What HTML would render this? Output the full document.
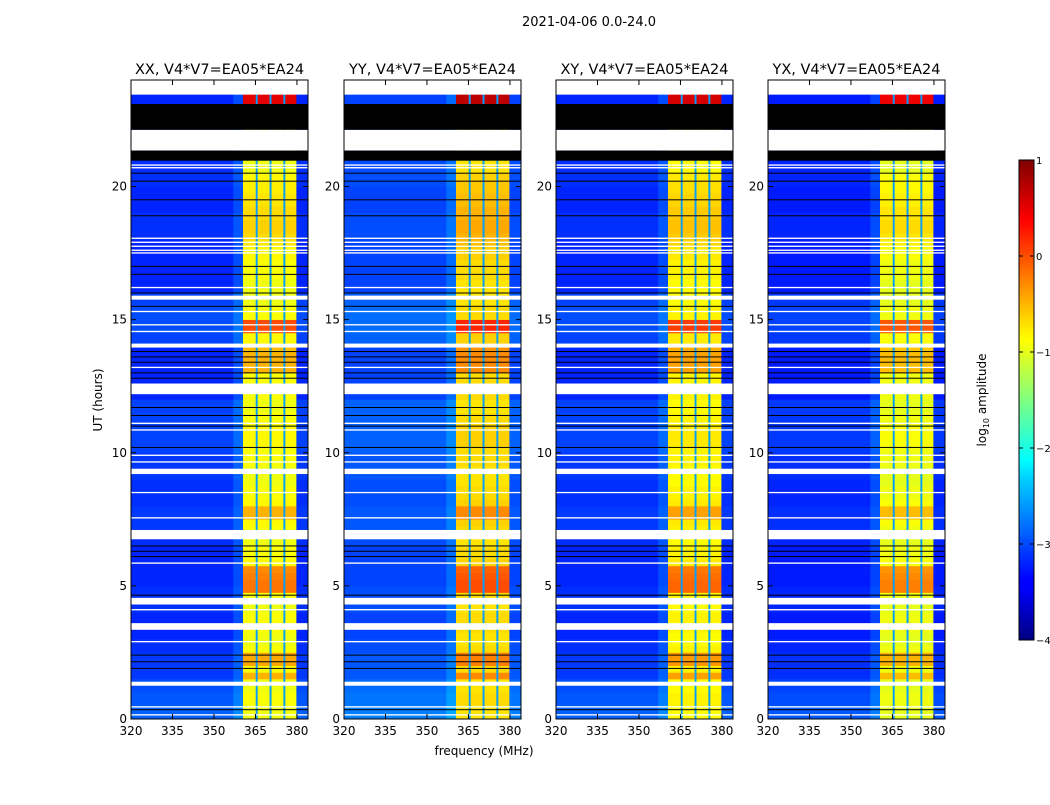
<!DOCTYPE html>
<html><head><meta charset="utf-8">
<style>
body{margin:0;background:#fff;}
svg text{font-family:"DejaVu Sans","Liberation Sans",sans-serif;}
</style></head>
<body>
<svg id="fig" width="1050" height="800" xmlns="http://www.w3.org/2000/svg">
<rect width="1050" height="800" fill="#fff"/>
<text x="589" y="26" font-size="13" text-anchor="middle">2021-04-06 0.0-24.0</text>
<text x="484" y="755" font-size="12" text-anchor="middle">frequency (MHz)</text>
<text x="0" y="0" font-size="12" text-anchor="middle" transform="translate(102,400) rotate(-90)">UT (hours)</text>
<g id="panels"></g>
<defs>
<linearGradient id="jet" x1="0" y1="1" x2="0" y2="0">
<stop offset="0" stop-color="#000080"/><stop offset="0.11" stop-color="#0000ff"/>
<stop offset="0.125" stop-color="#0000ff"/><stop offset="0.34" stop-color="#00d4ff"/>
<stop offset="0.375" stop-color="#00ffff"/><stop offset="0.5" stop-color="#80ff80"/>
<stop offset="0.625" stop-color="#ffff00"/><stop offset="0.66" stop-color="#ffe000"/>
<stop offset="0.875" stop-color="#ff0000"/><stop offset="1" stop-color="#800000"/>
</linearGradient>
</defs>
<g>
<rect x="1019" y="160" width="15" height="480" fill="url(#jet)" stroke="#000" stroke-width="1"/>
<g id="cbticks"></g>
<text font-size="12" text-anchor="middle" transform="translate(986,400) rotate(-90)">log<tspan font-size="8" dy="3">10</tspan><tspan dy="-3"> amplitude</tspan></text>
</g>
</svg>
<script>
const titles = ["XX, V4*V7=EA05*EA24","YY, V4*V7=EA05*EA24","XY, V4*V7=EA05*EA24","YX, V4*V7=EA05*EA24"];
const xTicks = [320,335,350,365,380];
const yTicks = [0,5,10,15,20];
const cbTicks = [1,0,-1,-2,-3,-4];
const bgOffset = [0,0.15,0,-0.05];
const rfiOffset = [0,0.2,0.08,-0.05];
// background log amplitude per 0.5 h
const bgLevel = [-2.9,-2.95,-3.0,-3.1,-3.1,-3.15,-3.2,-3.2,-3.15,-3.15,-3.2,-3.2,-3.2,-3.15,-3.1,-3.1,-3.15,-3.15,-3.1,-3.1,-3.05,-3.05,-3.05,-3.05,-3.2,-3.2,-3.2,-3.2,-3.05,-3.0,-3.0,-3.05,-3.2,-3.2,-3.2,-3.2,-3.15,-3.15,-3.2,-3.2,-3.15,-3.15,-3.25,-3.25,-3.2,-3.2,-3.2,-3.2];
// in-band RFI log amplitude per 0.25 h
const rfiLevel = [-0.95,-0.95,-0.9,-0.9,-0.95,-0.95,-0.5,-0.9,-0.45,-0.45,-0.9,-0.95,-0.95,-0.9,-0.9,-0.9,-0.95,-0.95,-0.9,-0.2,-0.2,-0.25,-0.3,-0.85,-0.9,-0.9,-0.95,-0.95,-0.9,-0.85,-0.5,-0.5,-0.85,-0.9,-0.9,-0.95,-0.95,-0.95,-0.9,-0.9,-0.9,-0.85,-0.85,-0.85,-0.9,-0.9,-0.95,-0.95,-0.9,-0.9,-0.9,-0.9,-0.5,-0.5,-0.5,-0.55,-0.85,-0.85,0.0,0.0,-0.9,-0.9,-0.95,-0.95,-0.95,-0.95,-0.9,-0.9,-0.9,-0.85,-0.85,-0.75,-0.7,-0.65,-0.65,-0.7,-0.7,-0.75,-0.75,-0.8,-0.8,-0.85,-0.95,-0.95,-0.95,-0.95,-0.95,-0.95,-0.95,-0.95,-0.95,-0.95,0.5,0.5,-0.95,-0.95];
const bandEdges = [[320,357,"bg"],[357,360.5,"edge"],[360.5,365.1,"rfi"],[365.1,365.8,"sep"],[365.8,370.1,"rfi"],[370.1,370.8,"sep"],[370.8,375.1,"rfi"],[375.1,375.8,"sep"],[375.8,379.8,"rfi"],[379.8,384,"bg2"]];
const whiteGaps = [[23.45,24],[21.35,22.13],[20.78,20.83],[20.68,20.73],[18.03,18.08],[17.88,17.93],[17.73,17.78],[17.58,17.63],[17.48,17.53],[16.18,16.23],[15.75,15.9],[15.28,15.33],[14.78,14.83],[14.53,14.58],[13.95,14.1],[13.18,13.23],[12.2,12.6],[11.08,11.13],[10.83,10.88],[9.88,9.93],[9.63,9.68],[9.2,9.4],[8.48,8.53],[7.53,7.58],[6.75,7.1],[5.83,5.88],[4.3,4.55],[4.08,4.13],[3.35,3.6],[2.88,2.93],[1.25,1.4],[0.43,0.48],[0.13,0.18]];
const blackGaps = [[22.13,23.1],[20.97,21.35]];
const blackLines = [20.5,20.2,19.5,18.9,17.0,16.7,16.0,15.5,13.8,13.6,13.4,13.0,12.8,11.7,11.4,11.0,10.2,6.5,6.3,6.1,4.65,2.4,2.15,1.9,0.35];

const NS="http://www.w3.org/2000/svg";
const panelX=[131,344,556,768], PW=177, PT=80, PB=719;
function yS(h){return PB-h*(PB-PT)/24;}
function xS(f,p){return panelX[p]+(f-320)*PW/64;}
function jet(v){let t=(v+4)/5;t=Math.max(0,Math.min(1,t));
 const c=x=>Math.round(255*Math.max(0,Math.min(1,1.5-Math.abs(x))));
 return `rgb(${c(4*t-3)},${c(4*t-2)},${c(4*t-1)})`;}
function mk(tag,attrs,parent){const e=document.createElementNS(NS,tag);for(const k in attrs)e.setAttribute(k,attrs[k]);parent.appendChild(e);return e;}
const root=document.getElementById("panels");
for(let p=0;p<4;p++){
 const g=mk("g",{},root);
 
 
 for(let i=0;i<rfiLevel.length;i++){
  const h0=i*0.25,h1=h0+0.25;
  const bg=bgLevel[Math.floor(i/2)]+bgOffset[p];
  const rf=rfiLevel[i]+rfiOffset[p];
  for(const [f0,f1,kind] of bandEdges){
   let v=bg;
   if(kind==="edge")v=bg+0.2;else if(kind==="rfi")v=rf;else if(kind==="sep")v=-2.6;else if(kind==="bg2")v=bg;
   const r=mk("rect",{x:xS(f0,p),y:yS(h1),width:xS(f1,p)-xS(f0,p)+0.3,height:yS(h0)-yS(h1)+0.3,fill:jet(v)},g);
   
   
  }
 }
 for(const [a,b] of whiteGaps){const r=mk("rect",{x:panelX[p],y:yS(b),width:PW,height:Math.max(1.2,yS(a)-yS(b)),fill:"#fff"},g);
  }
 for(const [a,b] of blackGaps){const r=mk("rect",{x:panelX[p],y:yS(b),width:PW,height:yS(a)-yS(b),fill:"#000"},g);
  }
 for(const h of blackLines){const r=mk("rect",{x:panelX[p],y:yS(h)-0.5,width:PW,height:1,fill:"#000"},g);
  }
 const fr=mk("rect",{x:panelX[p],y:PT,width:PW,height:PB-PT,fill:"none",stroke:"#000","stroke-width":1},g);
 
 const t=mk("text",{x:panelX[p]+PW/2,y:74,"font-size":"14.5","text-anchor":"middle"},g);t.textContent=titles[p];
 
 for(const f of xTicks){const x=xS(f,p);
  mk("line",{x1:x,y1:PB,x2:x,y2:PB-5,stroke:"#000"},g);mk("line",{x1:x,y1:PT,x2:x,y2:PT+5,stroke:"#000"},g);
  const l=mk("text",{x:x,y:PB+16,"font-size":"12","text-anchor":"middle"},g);l.textContent=f;
  }
 for(const h of yTicks){const y=yS(h);
  mk("line",{x1:panelX[p],y1:y,x2:panelX[p]+5,y2:y,stroke:"#000"},g);mk("line",{x1:panelX[p]+PW,y1:y,x2:panelX[p]+PW-5,y2:y,stroke:"#000"},g);
  const l=mk("text",{x:panelX[p]-4,y:y+4,"font-size":"12","text-anchor":"end"},g);l.textContent=h;
  }
}
const cb=document.getElementById("cbticks");
for(const v of cbTicks){const y=640-(v+4)/5*480;
 mk("line",{x1:1019,y1:y,x2:1023,y2:y,stroke:"#000"},cb);mk("line",{x1:1034,y1:y,x2:1030,y2:y,stroke:"#000"},cb);
 const l=mk("text",{x:1036,y:y+4,"font-size":"10","font-family":"Liberation Sans, sans-serif"},cb);l.textContent=v<0?"\u2212"+(-v):String(v);
 }
</script>
</body></html>
